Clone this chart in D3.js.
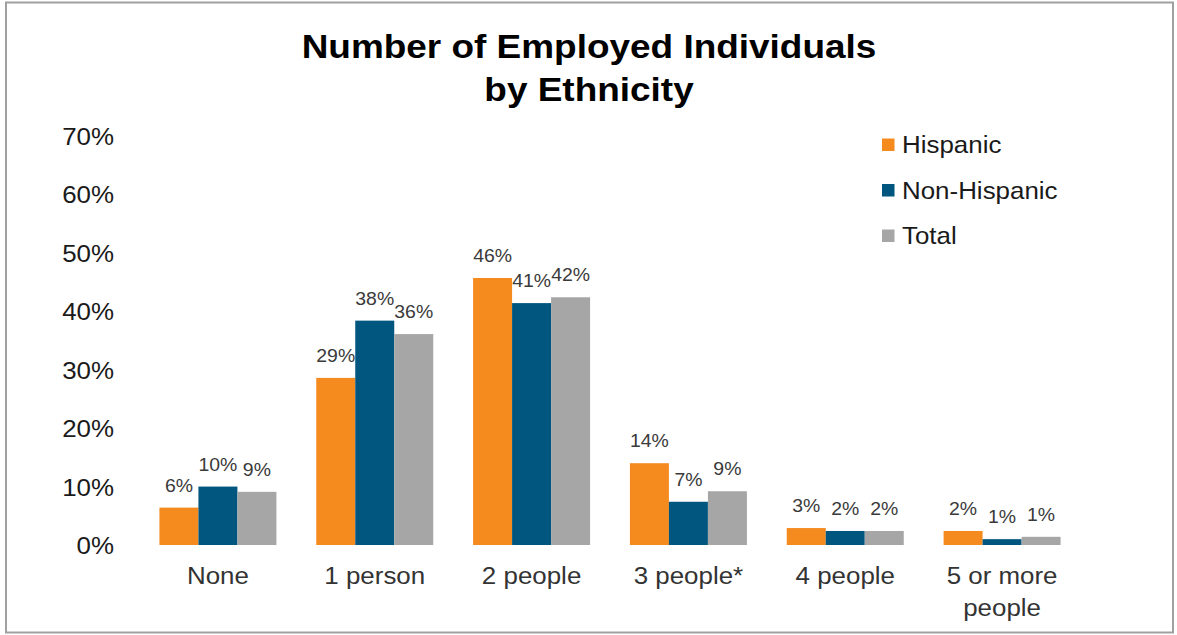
<!DOCTYPE html>
<html>
<head>
<meta charset="utf-8">
<script src="https://cdn.jsdelivr.net/npm/d3@7"></script>
<style>
  html, body { margin: 0; padding: 0; background: #fff; }
  svg text { font-family: Arial, "Liberation Sans", Helvetica, sans-serif; }
</style>
</head>
<body>
<svg id="chart" width="1177" height="635"></svg>
<script>
// Household employment breakdown, share of respondents (%)
const categories = ["None", "1 person", "2 people", "3 people*", "4 people", "5 or more people"];
const seriesNames = ["Hispanic", "Non-Hispanic", "Total"];
const hispanic    = [6.4, 28.6, 45.7, 14.0, 2.9, 2.4];
const nonHispanic = [10.0, 38.4, 41.4, 7.4, 2.4, 1.0];
const total       = [9.1, 36.1, 42.4, 9.2, 2.4, 1.4];
const yTicks = [0, 10, 20, 30, 40, 50, 60, 70];
const titleLines = ["Number of Employed Individuals", "by Ethnicity"];

const colors = ["#F58B1F", "#00567F", "#A6A6A6"];
const seriesValues = [hispanic, nonHispanic, total];

const svg = d3.select("#chart");
const W = 1177, H = 635;
const sx = 1.08; // slightly wide lettering

// outer frame
svg.append("rect")
  .attr("x", 6).attr("y", 2.5).attr("width", 1167).attr("height", 630)
  .attr("fill", "#fff").attr("stroke", "#a0a0a0").attr("stroke-width", 2);

// title
svg.append("g").selectAll("text").data(titleLines).join("text")
  .attr("transform", (d, i) => `translate(589,${58 + i * 43}) scale(1.12,1)`)
  .attr("text-anchor", "middle")
  .attr("font-size", 33).attr("font-weight", "bold").attr("fill", "#000")
  .text(d => d);

// scales
const x0 = d3.scaleBand().domain(categories).range([139.5, 1080.5])
  .paddingInner(0.254).paddingOuter(0.127);
const x1 = d3.scaleBand().domain(seriesNames).range([0, x0.bandwidth()]);
const y = d3.scaleLinear().domain([0, 70]).range([545, 136]);

// y axis labels (no axis line, no gridlines)
const yAxis = svg.append("g").attr("transform", "translate(114,0)")
  .call(d3.axisLeft(y).tickValues(yTicks).tickSize(0).tickPadding(0).tickFormat(d => d + "%"));
yAxis.select(".domain").remove();
yAxis.selectAll("text")
  .attr("font-size", 24).attr("fill", "#1a1a1a")
  .attr("dy", null).attr("x", 0).attr("y", 8.5)
  .attr("transform", `scale(${sx},1)`);

// bars
const groups = svg.append("g").selectAll("g").data(categories).join("g")
  .attr("transform", d => `translate(${x0(d)},0)`);

groups.each(function(cat, ci) {
  const g = d3.select(this);
  const rows = seriesNames.map((s, si) => ({ s, si, v: seriesValues[si][ci] }));
  g.selectAll("rect").data(rows).join("rect")
    .attr("x", d => x1(d.s))
    .attr("y", d => y(d.v))
    .attr("width", x1.bandwidth())
    .attr("height", d => y(0) - y(d.v))
    .attr("fill", d => colors[d.si]);
  g.selectAll("text").data(rows).join("text")
    .attr("transform", d => `translate(${x1(d.s) + x1.bandwidth() / 2},${y(d.v) - 16}) scale(${sx},1)`)
    .attr("text-anchor", "middle")
    .attr("font-size", 18).attr("fill", "#3a3a3a")
    .text(d => Math.round(d.v) + "%");
});

// category labels, wrapped onto two lines where needed
const xLabels = svg.append("g").selectAll("text").data(categories).join("text")
  .attr("transform", d => `translate(${x0(d) + x0.bandwidth() / 2},584) scale(${sx},1)`)
  .attr("text-anchor", "middle")
  .attr("font-size", 24).attr("fill", "#333");
xLabels.each(function(d) {
  const lines = d === "5 or more people" ? ["5 or more", "people"] : [d];
  d3.select(this).selectAll("tspan").data(lines).join("tspan")
    .attr("x", 0).attr("dy", (l, i) => i === 0 ? 0 : 32)
    .text(l => l);
});

// legend
const legend = svg.append("g").selectAll("g").data(seriesNames).join("g")
  .attr("transform", (d, i) => `translate(882,${153 + i * 45.5})`);
legend.append("rect")
  .attr("x", 0).attr("y", -14.5).attr("width", 12.5).attr("height", 12.5)
  .attr("fill", (d, i) => colors[i]);
legend.append("text")
  .attr("transform", `translate(20,0) scale(${sx},1)`)
  .attr("font-size", 24).attr("fill", "#1a1a1a")
  .text(d => d);
</script>
</body>
</html>
